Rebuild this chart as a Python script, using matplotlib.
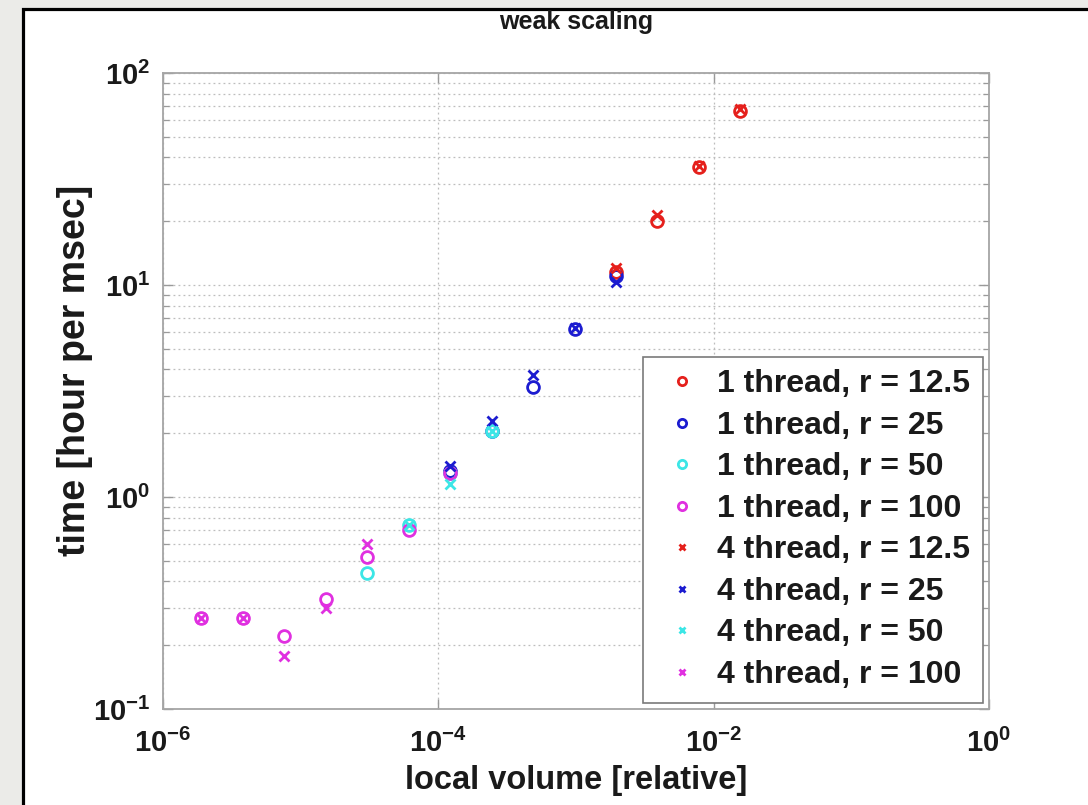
import matplotlib
matplotlib.use("Agg")
import math
import matplotlib.pyplot as plt
from matplotlib.patches import Rectangle
from matplotlib.ticker import FixedLocator, LogLocator, NullFormatter, FuncFormatter, NullLocator

plt.rcParams['font.family'] = ['Liberation Sans', 'DejaVu Sans']
plt.rcParams['font.weight'] = 'bold'
plt.rcParams['mathtext.fontset'] = 'custom'
plt.rcParams['mathtext.rm'] = 'Liberation Sans:bold'
plt.rcParams['mathtext.bf'] = 'Liberation Sans:bold'

# ---- data ----
labels = ["1 thread, r = 12.5", "1 thread, r = 25", "1 thread, r = 50", "1 thread, r = 100",
          "4 thread, r = 12.5", "4 thread, r = 25", "4 thread, r = 50", "4 thread, r = 100"]

x1_r12 = [1.95e-3, 3.9e-3, 7.8e-3, 1.56e-2]
y1_r12 = [11.5, 20.0, 36.0, 66.0]
x1_r25 = [1.22e-4, 2.44e-4, 4.9e-4, 9.8e-4, 1.95e-3]
y1_r25 = [1.32, 2.05, 3.3, 6.2, 11.0]
x1_r50 = [3.05e-5, 6.1e-5, 1.22e-4, 2.44e-4]
y1_r50 = [0.44, 0.74, 1.30, 2.05]
x1_r100 = [1.9e-6, 3.8e-6, 7.6e-6, 1.53e-5, 3.05e-5, 6.1e-5, 1.22e-4]
y1_r100 = [0.27, 0.27, 0.22, 0.33, 0.52, 0.70, 1.30]

x4_r12 = [1.95e-3, 3.9e-3, 7.8e-3, 1.56e-2]
y4_r12 = [12.0, 21.5, 36.5, 68.0]
x4_r25 = [1.22e-4, 2.44e-4, 4.9e-4, 9.8e-4, 1.95e-3]
y4_r25 = [1.40, 2.28, 3.75, 6.3, 10.3]
x4_r50 = [6.1e-5, 1.22e-4, 2.44e-4]
y4_r50 = [0.74, 1.15, 2.05]
x4_r100 = [1.9e-6, 3.8e-6, 7.6e-6, 1.53e-5, 3.05e-5]
y4_r100 = [0.27, 0.27, 0.177, 0.30, 0.60]

xs = [x1_r12, x1_r25, x1_r50, x1_r100, x4_r12, x4_r25, x4_r50, x4_r100]
ys = [y1_r12, y1_r25, y1_r50, y1_r100, y4_r12, y4_r25, y4_r50, y4_r100]
colors = ['#e5201c', '#1c1cd0', '#3ce6e6', '#e030e0'] * 2
markers = ['o'] * 4 + ['x'] * 4

x_ticks = [1e-6, 1e-4, 1e-2, 1e0]
y_ticks = [1e-1, 1e0, 1e1, 1e2]

# ---- figure ----
fig = plt.figure(figsize=(10.88, 8.05), dpi=100)
fig.patch.set_facecolor('#ebebe8')
frame = Rectangle((23 / 1088, -0.1), 1.2, 1.1 - 9 / 805,
                  transform=fig.transFigure, facecolor='white',
                  edgecolor='black', linewidth=2.3, zorder=-10)
fig.patches.append(frame)

ax = fig.add_axes([163 / 1088, 1 - 709 / 805, 826 / 1088, 636 / 805])
ax.set_facecolor('white')

for x, y, c, m, lab in zip(xs, ys, colors, markers, labels):
    if m == 'o':
        ax.plot(x, y, linestyle='none', marker='o', markersize=8.5,
                markerfacecolor='none', markeredgecolor=c, markeredgewidth=2.0, label=lab)
    else:
        ax.plot(x, y, linestyle='none', marker='x', markersize=6.5,
                color=c, markeredgewidth=2.0, label=lab)

ax.set_xscale('log')
ax.set_yscale('log')
ax.set_xlim(1e-6, 1e0)
ax.set_ylim(1e-1, 1e2)

def fmt(v, pos):
    e = int(round(math.log10(v)))
    return r'$\mathbf{10^{%d}}$' % e

ax.xaxis.set_major_locator(FixedLocator(x_ticks))
ax.xaxis.set_minor_locator(NullLocator())
ax.yaxis.set_major_locator(FixedLocator(y_ticks))
ax.yaxis.set_minor_locator(LogLocator(base=10, subs=range(2, 10)))
ax.xaxis.set_major_formatter(FuncFormatter(fmt))
ax.yaxis.set_major_formatter(FuncFormatter(fmt))
ax.yaxis.set_minor_formatter(NullFormatter())

ax.tick_params(which='both', direction='in', top=True, right=True, colors='#9a9a9a',
               labelcolor='#1a1a1a', labelsize=21)
ax.tick_params(which='major', length=7, width=1.0, pad=9)
ax.tick_params(axis='x', which='major', pad=14)
ax.tick_params(which='minor', length=4, width=0.9)

for s in ax.spines.values():
    s.set_color('#a5a5a5')
    s.set_linewidth(1.3)

ax.grid(True, which='major', axis='both', linestyle=(0, (1.5, 2.5)), color='#bdbdbd', linewidth=0.9)
ax.grid(True, which='minor', axis='y', linestyle=(0, (1.5, 2.5)), color='#bdbdbd', linewidth=0.9)
ax.set_axisbelow(True)

ax.set_xlabel('local volume [relative]', fontsize=23.5, fontweight='bold', color='#1a1a1a')
ax.xaxis.set_label_coords(0.5, (709 - 780) / 636)
ax.xaxis.label.set_va('center')
ax.set_ylabel('time [hour per msec]', fontsize=27, fontweight='bold', color='#1a1a1a')
ax.yaxis.set_label_coords((75 - 163) / 826, (709 - 370) / 636)
ax.yaxis.label.set_va('center')

fig.text(576 / 1088, 1 - 22 / 805, 'weak scaling', ha='center', va='center',
         fontsize=18, fontweight='bold', color='#1a1a1a')

leg = ax.legend(loc='lower right', fontsize=23, frameon=True, fancybox=False,
                edgecolor='#7a7a7a', framealpha=1, markerscale=0.7,
                handlelength=1.64, handletextpad=0.27, borderpad=0.4,
                labelspacing=0.36, borderaxespad=0.2)
leg.get_frame().set_linewidth(1.2)
for t in leg.get_texts():
    t.set_color('#1a1a1a')

fig.savefig('out.png', dpi=100, facecolor=fig.get_facecolor())
